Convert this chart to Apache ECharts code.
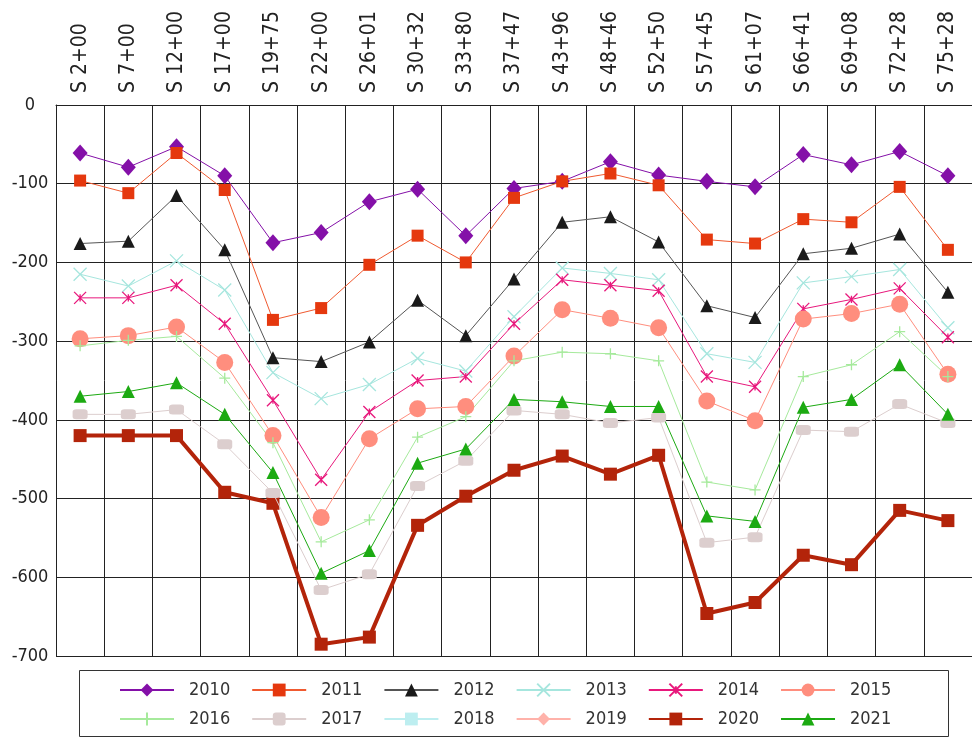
<!DOCTYPE html>
<html>
<head>
<meta charset="utf-8">
<script src="https://cdn.jsdelivr.net/npm/echarts@6/dist/echarts.min.js"></script>
<style>
  html, body { margin: 0; padding: 0; background: #fff; }
  #chart { width: 972px; height: 738px; }
</style>
</head>
<body>
<div id="chart"></div>
<script>
var stations = ['S 2+00', 'S 7+00', 'S 12+00', 'S 17+00', 'S 19+75', 'S 22+00', 'S 26+01', 'S 30+32', 'S 33+80', 'S 37+47',
  'S 43+96', 'S 48+46', 'S 52+50', 'S 57+45', 'S 61+07', 'S 66+41', 'S 69+08', 'S 72+28', 'S 75+28'];

var y2010 = [-61, -79, -53, -90, -175, -162, -123, -107, -166, -106, -97, -72, -89, -97, -104, -63, -76, -59, -90];
var y2011 = [-96, -112, -61, -108, -273, -258, -203, -166, -200, -118, -97, -87, -102, -171, -176, -145, -149, -104, -184];
var y2012 = [-176, -173, -115, -184, -321, -326, -301, -248, -293, -221, -149, -142, -174, -255, -270, -189, -182, -164, -238];
var y2013 = [-215, -230, -198, -235, -340, -373, -355, -322, -338, -269, -207, -214, -222, -316, -327, -226, -218, -209, -283];
var y2014 = [-245, -245, -229, -278, -375, -476, -390, -350, -345, -278, -222, -229, -236, -345, -358, -259, -247, -233, -295];
var y2015 = [-297, -293, -282, -327, -420, -524, -424, -386, -383, -319, -260, -271, -283, -376, -401, -272, -265, -253, -342];
var y2016 = [-306, -299, -294, -347, -429, -555, -527, -422, -396, -325, -314, -316, -325, -479, -489, -345, -330, -288, -345];
var y2017 = [-393, -393, -387, -431, -493, -616, -596, -484, -452, -388, -393, -404, -397, -556, -549, -413, -415, -380, -404];
var y2018 = [];
var y2019 = [];
var y2020 = [-420, -420, -420, -492, -506, -685, -676, -534, -497, -464, -446, -469, -445, -646, -632, -572, -584, -515, -528];
var y2021 = [-370, -364, -353, -393, -467, -595, -566, -455, -437, -374, -377, -383, -383, -522, -529, -384, -374, -330, -393];

var yTicks = [0, -100, -200, -300, -400, -500, -600, -700];

var FONT = "'DejaVu Sans Condensed', 'Liberation Sans', sans-serif";
var crossPath = 'path://M0,0L10,10M10,0L0,10';
var starPath = 'path://M0,0L10,10M10,0L0,10M5,2L5,8';
var plusPath = 'path://M5,0L5,10M0,5L10,5';

function mk(name, data, color, symbol, size, opts) {
  opts = opts || {};
  return {
    name: name,
    type: 'line',
    data: data,
    symbol: symbol,
    symbolSize: size,
    showAllSymbol: true,
    animation: false,
    z: opts.z || 2,
    lineStyle: { color: opts.lineColor || color, width: opts.width || 1 },
    itemStyle: {
      color: opts.stroke ? 'rgba(0,0,0,0)' : color,
      borderColor: color,
      borderWidth: opts.stroke ? 1.3 : 0
    }
  };
}

var series = [
  mk('2010', y2010, '#8410A8', 'diamond', [15, 17]),
  mk('2011', y2011, '#E5380E', 'rect', 12, { lineColor: '#F05A30' }),
  mk('2012', y2012, '#1A1A1A', 'triangle', 13, { lineColor: '#555555' }),
  mk('2013', y2013, '#A6E6DE', crossPath, 13, { stroke: true }),
  mk('2014', y2014, '#E8187C', starPath, 12, { stroke: true }),
  mk('2015', y2015, '#FF8E7E', 'circle', 17),
  mk('2016', y2016, '#A6EA9C', plusPath, 11, { stroke: true }),
  mk('2017', y2017, '#DCCECE', 'roundRect', [15, 10]),
  mk('2018', y2018, '#BDEEF0', 'rect', 12),
  mk('2019', y2019, '#FFB2AA', 'diamond', [12, 16]),
  mk('2020', y2020, '#B3240A', 'rect', 13, { width: 4, z: 1 }),
  mk('2021', y2021, '#1CAA12', 'triangle', 13)
];

var legendText = {
  fontFamily: FONT, fontSize: 18, color: '#333',
  width: 40, padding: [0, 0, 0, 10]
};

var chart = echarts.init(document.getElementById('chart'), null, { renderer: 'canvas' });
chart.setOption({
  backgroundColor: '#ffffff',
  animation: false,
  grid: { left: 56, top: 105, width: 920, height: 551 },
  xAxis: {
    type: 'category',
    position: 'top',
    data: stations,
    boundaryGap: true,
    axisLine: { show: true, lineStyle: { color: '#222', width: 1 } },
    axisTick: { show: false },
    splitLine: { show: true, lineStyle: { color: '#222', width: 1 } },
    axisLabel: {
      rotate: 90, margin: 12, interval: 0,
      fontFamily: FONT, fontSize: 21, color: '#222'
    }
  },
  yAxis: {
    type: 'value',
    min: -700, max: 0, interval: 100,
    axisLine: { show: true, lineStyle: { color: '#222', width: 1 } },
    axisTick: { show: false },
    splitLine: { show: true, lineStyle: { color: '#222', width: 1 } },
    axisLabel: {
      margin: 26, align: 'center', fontFamily: FONT, fontSize: 18, color: '#222',
      formatter: function (v) { return yTicks.indexOf(v) >= 0 ? String(v) : ''; }
    }
  },
  legend: [
    {
      data: ['2010', '2011', '2012', '2013', '2014', '2015'],
      left: 114, top: 676, itemWidth: 54, itemHeight: 16, itemGap: 21,
      textStyle: legendText
    },
    {
      data: ['2016', '2017', '2018', '2019', '2020', '2021'],
      left: 114, top: 705, itemWidth: 54, itemHeight: 16, itemGap: 21,
      textStyle: legendText
    }
  ],
  graphic: [
    {
      type: 'rect',
      shape: { x: 79.5, y: 670.5, width: 869, height: 66 },
      style: { fill: 'none', stroke: '#333', lineWidth: 1 },
      z: -1
    }
  ],
  series: series
});
</script>
</body>
</html>
